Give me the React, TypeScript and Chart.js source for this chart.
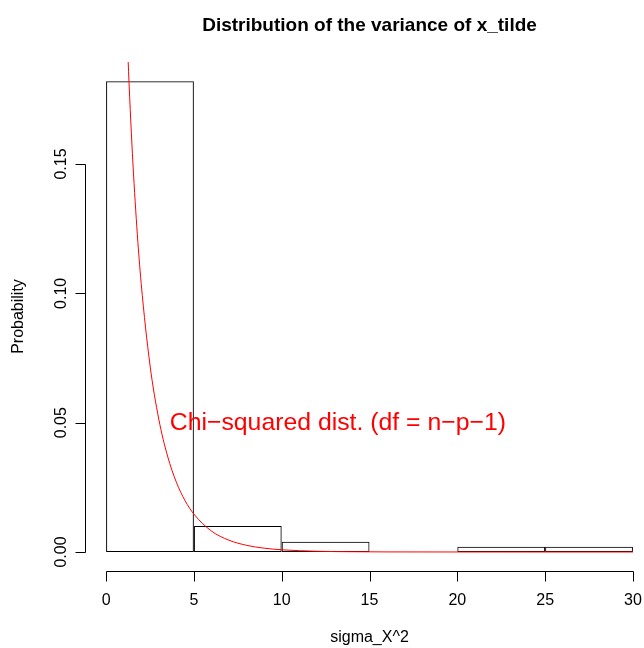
import React, { useEffect, useRef } from "react";
import { Chart, registerables } from "chart.js";

Chart.register(...registerables);

// Histogram bins (centres) and densities
const binCenters = [2.5, 7.5, 12.5, 17.5, 22.5, 27.5];
const binDensity = [0.182, 0.01, 0.004, 0, 0.002, 0.002];

// Red density curve
const curveX = [1.0, 1.25, 1.5, 1.75, 2, 2.5, 3, 3.5, 4, 4.5, 5, 6, 7, 8, 9, 10, 12, 14, 16, 20, 25, 30];
const curveY = [0.242, 0.191, 0.154, 0.1257, 0.1038, 0.0723, 0.0514, 0.0371, 0.027, 0.0198, 0.01465, 0.0081, 0.00455, 0.00258, 0.00148, 0.00085, 0.00029, 0.0001, 0.00003, 0.000004, 0, 0];

const xTicks = [0, 5, 10, 15, 20, 25, 30];
const yTicks = [0, 0.05, 0.1, 0.15];
const yTickLabels = ["0.00", "0.05", "0.10", "0.15"];

const titleText = "Distribution of the variance of x_tilde";
const xTitle = "sigma_X^2";
const yTitle = "Probability";
const noteText = "Chi\u2212squared dist. (df = n\u2212p\u22121)";
const noteX = 13.2;
const noteY = 0.05;

const FONT = '"Liberation Sans", Arial, Helvetica, sans-serif';

const rAxesPlugin = {
  id: "rAxes",
  afterDraw(chart: any) {
    const ctx = chart.ctx;
    const xs = chart.scales.x;
    const ys = chart.scales.y;
    const ca = chart.chartArea;
    ctx.save();
    ctx.strokeStyle = "#000";
    ctx.fillStyle = "#000";
    ctx.lineWidth = 1;

    // y axis
    const yAxisX = Math.round(ca.left) + 0.5;
    ctx.beginPath();
    ctx.moveTo(yAxisX, Math.round(ys.getPixelForValue(yTicks[0])) + 0.5);
    ctx.lineTo(yAxisX, Math.round(ys.getPixelForValue(yTicks[yTicks.length - 1])) + 0.5);
    yTicks.forEach((v) => {
      const py = Math.round(ys.getPixelForValue(v)) + 0.5;
      ctx.moveTo(yAxisX, py);
      ctx.lineTo(yAxisX - 10, py);
    });
    ctx.stroke();
    ctx.font = "16px " + FONT;
    ctx.textAlign = "center";
    ctx.textBaseline = "alphabetic";
    yTicks.forEach((v, i) => {
      const py = ys.getPixelForValue(v);
      ctx.save();
      ctx.translate(66, py);
      ctx.rotate(-Math.PI / 2);
      ctx.fillText(yTickLabels[i], 0, 0);
      ctx.restore();
    });

    // x axis
    const xAxisY = Math.round(ca.bottom) + 0.5;
    ctx.beginPath();
    ctx.moveTo(Math.round(xs.getPixelForValue(xTicks[0])) + 0.5, xAxisY);
    ctx.lineTo(Math.round(xs.getPixelForValue(xTicks[xTicks.length - 1])) + 0.5, xAxisY);
    xTicks.forEach((v) => {
      const px = Math.round(xs.getPixelForValue(v)) + 0.5;
      ctx.moveTo(px, xAxisY);
      ctx.lineTo(px, xAxisY + 10);
    });
    ctx.stroke();
    xTicks.forEach((v) => {
      ctx.fillText(String(v), xs.getPixelForValue(v), 605);
    });

    // axis titles
    const midX = xs.getPixelForValue(15);
    ctx.fillText(xTitle, midX, 642);
    ctx.save();
    ctx.translate(23, (ca.top + ca.bottom) / 2);
    ctx.rotate(-Math.PI / 2);
    ctx.fillText(yTitle, 0, 0);
    ctx.restore();

    // main title
    ctx.font = "bold 19px " + FONT;
    ctx.fillText(titleText, midX, 31);

    // red annotation
    ctx.font = "24.8px " + FONT;
    ctx.fillStyle = "#ff0000";
    ctx.fillText(noteText, xs.getPixelForValue(noteX), ys.getPixelForValue(noteY) + 7);
    ctx.restore();
  },
};

export default function App() {
  const canvasRef = useRef<HTMLCanvasElement | null>(null);

  useEffect(() => {
    const canvas = canvasRef.current;
    if (!canvas) return;
    const chart = new Chart(canvas, {
      type: "bar",
      data: {
        datasets: [
          {
            type: "line",
            data: curveX.map((x, i) => ({ x, y: curveY[i] })),
            borderColor: "#ff0000",
            borderWidth: 1,
            pointRadius: 0,
            fill: false,
            cubicInterpolationMode: "monotone",
            order: 0,
          } as any,
          {
            type: "bar",
            data: binCenters.map((x, i) => ({ x, y: binDensity[i] })),
            backgroundColor: "rgba(0,0,0,0)",
            borderColor: "#000",
            borderWidth: 1,
            borderSkipped: false,
            barPercentage: 1,
            categoryPercentage: 1,
            inflateAmount: 0,
            order: 1,
          } as any,
        ],
      },
      options: {
        animation: false,
        responsive: false,
        maintainAspectRatio: false,
        layout: { padding: { left: 85, top: 62, right: 0, bottom: 77 } },
        plugins: { legend: { display: false }, tooltip: { enabled: false }, title: { display: false } },
        scales: {
          x: { type: "linear", min: -1.2, max: 30.63, display: false, offset: false },
          y: { type: "linear", min: -0.00735, max: 0.18943, display: false },
        },
      },
      plugins: [rAxesPlugin],
    });
    return () => chart.destroy();
  }, []);

  return (
    <div style={{ position: "fixed", left: 0, top: 0, width: 644, height: 648, background: "#fff" }}>
      <canvas ref={canvasRef} width={644} height={648} style={{ display: "block" }} />
    </div>
  );
}
